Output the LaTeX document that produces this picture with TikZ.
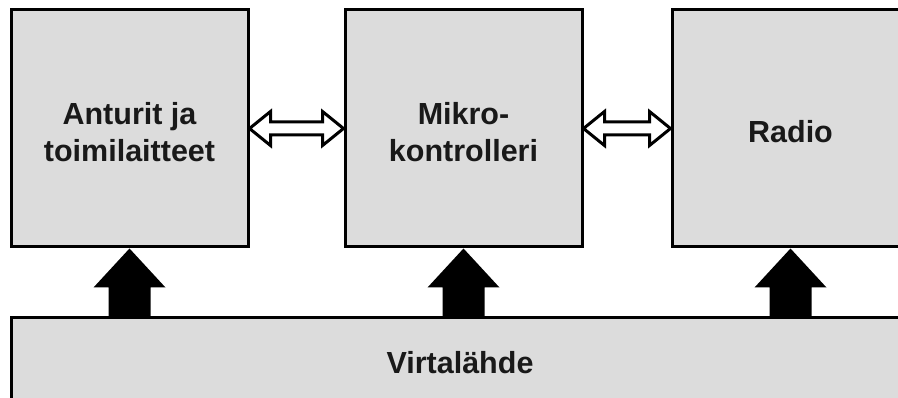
\documentclass[tikz,border=0pt]{standalone}
\usepackage{fontspec}
\setmainfont{Liberation Sans}
\usetikzlibrary{calc}
\begin{document}
\begin{tikzpicture}[x=1pt,y=-1pt,
  blk/.style={draw=black,line width=3pt,fill=boxgray,minimum width=237pt,minimum height=237pt,inner sep=0pt},
  bus/.style={blk,minimum width=898pt,minimum height=88pt},
  txt/.style={inner sep=0pt,align=center,font=\fontsize{30.5}{37}\selectfont\bfseries,text=black!90},
  hollow/.style={draw=black,fill=white,line width=3pt,line join=miter},
  solid/.style={fill=black}]
\definecolor{boxgray}{HTML}{DCDCDC}
\useasboundingbox (0,0) rectangle (898,398);
\clip (0,0) rectangle (898,398);
\node[blk] (a) at (129.5,128.5) {};
\node[blk] (m) at (463.5,128.5) {};
\node[blk] (r) at (790.5,128.5) {};
\node[bus] (v) at (460,362) {};
\node[txt] (ta) at ($(a.center)+(0,4)$) {Anturit ja\\toimilaitteet};
\node[txt] (tm) at ($(m.center)+(0,4)$) {Mikro-\\kontrolleri};
\node[txt] (tr) at ($(r.center)+(0,3)$) {Radio};
\node[txt] (tv) at ($(v.center)+(0,1)$) {Virtalähde};
% hollow double arrows
\foreach \L/\R in {a/m,m/r}{
  \draw[hollow] (\L.east) -- ($(\L.east)+(21,-17)$) -- ($(\L.east)+(21,-6.5)$)
    -- ($(\R.west)+(-21,-6.5)$) -- ($(\R.west)+(-21,-17)$) -- (\R.west)
    -- ($(\R.west)+(-21,17)$) -- ($(\R.west)+(-21,6.5)$)
    -- ($(\L.east)+(21,6.5)$) -- ($(\L.east)+(21,17)$) -- cycle;
}
% solid up arrows
\foreach \B in {a,m,r}{
  \coordinate (sr) at ($(\B.south)+(21,0)$);
  \coordinate (sl) at ($(\B.south)+(-21,0)$);
  \fill[solid] (\B.south) -- ($(\B.south)+(36,39)$) -- ($(\B.south)+(21,39)$)
    -- (sr |- v.north) -- (sl |- v.north)
    -- ($(\B.south)+(-21,39)$) -- ($(\B.south)+(-36,39)$) -- cycle;
}
\end{tikzpicture}
\end{document}
